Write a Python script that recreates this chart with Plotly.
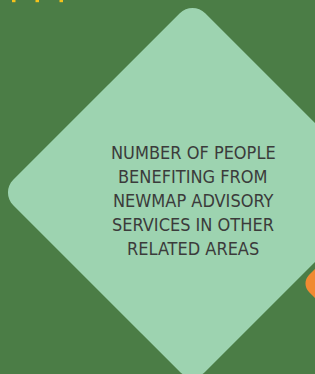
import plotly.graph_objects as go

# Content
label_lines = ["NUMBER OF PEOPLE", "BENEFITING FROM", "NEWMAP ADVISORY", "SERVICES IN OTHER", "RELATED AREAS"]

W, H = 315, 374
BG = "#4b7d46"
DIAMOND = "#9dd3b0"
ORANGE = "#f08a32"
YELLOW = "#f5c21b"
TEXT = "#3b3b3b"


def rounded_diamond(cx, cy, r, R):
    V = [(cx, cy - r), (cx + r, cy), (cx, cy + r), (cx - r, cy)]
    k = 0.5523
    parts = []
    n = len(V)
    for i in range(n):
        prev = V[i - 1]
        v = V[i]
        nxt = V[(i + 1) % n]

        def toward(a, b, d):
            dx, dy = b[0] - a[0], b[1] - a[1]
            L = (dx * dx + dy * dy) ** 0.5
            return (a[0] + dx / L * d, a[1] + dy / L * d)

        p0 = toward(v, prev, R)
        p3 = toward(v, nxt, R)
        c1 = (p0[0] + k * (v[0] - p0[0]), p0[1] + k * (v[1] - p0[1]))
        c2 = (p3[0] + k * (v[0] - p3[0]), p3[1] + k * (v[1] - p3[1]))
        if i == 0:
            parts.append(f"M {p0[0]:.2f},{p0[1]:.2f}")
        else:
            parts.append(f"L {p0[0]:.2f},{p0[1]:.2f}")
        parts.append(f"C {c1[0]:.2f},{c1[1]:.2f} {c2[0]:.2f},{c2[1]:.2f} {p3[0]:.2f},{p3[1]:.2f}")
    parts.append("Z")
    return " ".join(parts)


fig = go.Figure()
fig.add_trace(go.Scatter(x=[0, W], y=[0, H], mode="markers", marker=dict(opacity=0), hoverinfo="skip", showlegend=False))

shapes = []
shapes.append(dict(type="path", path=rounded_diamond(192.5, 192.5, 192, 18), fillcolor=DIAMOND, line=dict(width=0), layer="below"))
shapes.append(dict(type="path", path=rounded_diamond(350.5, 283.5, 50, 12), fillcolor=ORANGE, line=dict(width=0), layer="below"))
for x0 in [12, 35.5, 59.5]:
    shapes.append(dict(type="rect", x0=x0, x1=x0 + 3.5, y0=-1, y1=2.2, fillcolor=YELLOW, line=dict(width=0), layer="below"))

fig.update_layout(
    width=W, height=H,
    margin=dict(l=0, r=0, t=0, b=0),
    paper_bgcolor=BG, plot_bgcolor=BG,
    xaxis=dict(range=[0, W], visible=False, fixedrange=True),
    yaxis=dict(range=[H, 0], visible=False, fixedrange=True),
    shapes=shapes,
    showlegend=False,
)
line_y = [152, 176, 200, 224, 248]
for txt, yy in zip(label_lines, line_y):
    fig.add_annotation(
        x=193, y=yy, xref="x", yref="y",
        text=txt, showarrow=False,
        font=dict(family="DejaVu Sans Condensed, Liberation Sans", size=18, color=TEXT),
        align="center", xanchor="center", yanchor="middle",
    )
fig.write_html(
    "out.html",
    config={"displayModeBar": False, "staticPlot": True},
    post_script="document.body.style.margin='0';document.body.style.padding='0';document.body.style.overflow='hidden';document.documentElement.style.background='" + BG + "';",
)
